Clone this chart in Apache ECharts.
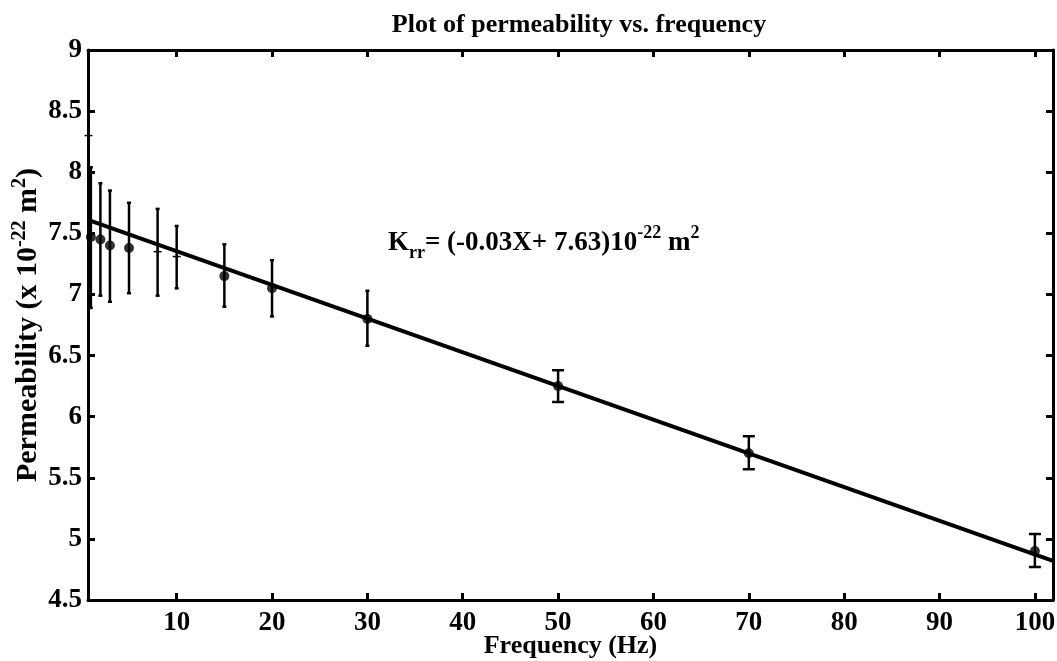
<!DOCTYPE html>
<html>
<head>
<meta charset="utf-8">
<script src="https://cdn.jsdelivr.net/npm/echarts@6/dist/echarts.min.js"></script>
<style>
  html, body { margin: 0; padding: 0; background: #fff; }
  #chart { width: 1057px; height: 661px; }
</style>
</head>
<body>
<div id="chart"></div>
<script>
  // frequency (Hz) and permeability (x 10^-22 m^2)
  var freqDots = [1, 2, 3, 5, 15, 20, 30, 50, 70, 100];
  var permDots = [7.47, 7.45, 7.4, 7.38, 7.15, 7.05, 6.8, 6.25, 5.7, 4.9];
  var errLow  = [6.89, 6.99, 6.94, 7.01, 6.9, 6.82, 6.58, 6.12, 5.57, 4.77];
  var errHigh = [8.04, 7.91, 7.85, 7.75, 7.41, 7.28, 7.03, 6.38, 5.84, 5.04];

  // points drawn with a "+" marker
  var freqPlus = [0.75, 8, 10];
  var permPlus = [8.3, 7.35, 7.31];
  var plusLow  = [null, 6.99, 7.05];
  var plusHigh = [null, 7.7, 7.56];

  // fitted line end points
  var fitX = [0.7, 101.9];
  var fitY = [7.61, 4.82];

  var xTicks = [10, 20, 30, 40, 50, 60, 70, 80, 90, 100];

  var font = '"Liberation Serif", "Times New Roman", serif';

  var errData = [];
  freqDots.forEach(function (f, i) { errData.push([f, errLow[i], errHigh[i]]); });
  freqPlus.forEach(function (f, i) {
    if (plusLow[i] != null) errData.push([f, plusLow[i], plusHigh[i]]);
  });

  var myChart = echarts.init(document.getElementById('chart'));
  window.addEventListener('resize', function () { myChart.resize(); });

  myChart.setOption({
    backgroundColor: '#fff',
    animation: false,
    title: {
      text: 'Plot of permeability vs. frequency',
      left: 574,
      top: 7,
      textAlign: 'center',
      textStyle: { fontFamily: font, fontWeight: 'bold', fontSize: 26, color: '#000' }
    },
    grid: { left: 88, right: 4, top: 50, bottom: 61, outerBoundsMode: 'none' },
    xAxis: [{
      type: 'value',
      min: fitX[0],
      max: fitX[1],
      name: 'Frequency (Hz)',
      nameLocation: 'middle',
      nameGap: 33,
      nameMoveOverlap: false,
      nameTextStyle: { fontFamily: font, fontWeight: 'bold', fontSize: 26, color: '#000' },
      axisLine: { show: true, lineStyle: { color: '#000', width: 3 } },
      axisTick: { show: true, inside: true, length: 7, lineStyle: { width: 3, color: '#000' }, customValues: xTicks },
      axisLabel: { fontFamily: font, fontWeight: 'bold', fontSize: 27, color: '#000', margin: 10, customValues: xTicks },
      splitLine: { show: false }
    }, {
      type: 'value',
      position: 'top',
      min: fitX[0],
      max: fitX[1],
      axisLine: { show: true, onZero: false, lineStyle: { color: '#000', width: 3 } },
      axisTick: { show: true, inside: true, length: 7, lineStyle: { width: 3, color: '#000' }, customValues: xTicks },
      axisLabel: { show: false },
      splitLine: { show: false }
    }],
    yAxis: [{
      type: 'value',
      min: 4.5,
      max: 9,
      interval: 0.5,
      name: '{b|Permeability (x 10}{sup|-22}{b| m}{sup|2}{b|)}',
      nameLocation: 'middle',
      nameRotate: 90,
      nameGap: 42,
      nameMoveOverlap: false,
      nameTextStyle: {
        color: '#000',
        rich: {
          b: { fontFamily: font, fontWeight: 'bold', fontSize: 30, lineHeight: 36, color: '#000' },
          sup: { fontFamily: font, fontWeight: 'bold', fontSize: 20, lineHeight: 36, verticalAlign: 'top', color: '#000' }
        }
      },
      axisLine: { show: true, lineStyle: { color: '#000', width: 3 } },
      axisTick: { show: true, inside: true, length: 7, lineStyle: { width: 3, color: '#000' } },
      axisLabel: { fontFamily: font, fontWeight: 'bold', fontSize: 27, color: '#000', margin: 6 },
      splitLine: { show: false }
    }, {
      type: 'value',
      position: 'right',
      min: 4.5,
      max: 9,
      interval: 0.5,
      axisLine: { show: true, onZero: false, lineStyle: { color: '#000', width: 3 } },
      axisTick: { show: true, inside: true, length: 7, lineStyle: { width: 3, color: '#000' } },
      axisLabel: { show: false },
      splitLine: { show: false }
    }],
    graphic: [{
      type: 'text',
      left: 388,
      top: 224,
      style: {
        text: '{b|K}{sub|rr}{b|= (-0.03X+ 7.63)10}{sup|-22}{b| m}{sup|2}',
        rich: {
          b: { fontFamily: font, fontWeight: 'bold', fontSize: 27, lineHeight: 38, fill: '#000' },
          sub: { fontFamily: font, fontWeight: 'bold', fontSize: 18, lineHeight: 38, verticalAlign: 'bottom', fill: '#000' },
          sup: { fontFamily: font, fontWeight: 'bold', fontSize: 18, lineHeight: 38, verticalAlign: 'top', fill: '#000' }
        }
      }
    }],
    series: [{
      name: 'fit',
      type: 'line',
      data: fitX.map(function (x, i) { return [x, fitY[i]]; }),
      symbol: 'none',
      lineStyle: { color: '#000', width: 4 },
      z: 3
    }, {
      name: 'error',
      type: 'custom',
      data: errData,
      renderItem: function (params, api) {
        var x = api.value(0);
        var lo = api.coord([x, api.value(1)]);
        var hi = api.coord([x, api.value(2)]);
        var cap = x >= 40 ? 6 : 2;
        var st = { stroke: '#000', lineWidth: 2.5 };
        return {
          type: 'group',
          children: [
            { type: 'line', shape: { x1: hi[0], y1: hi[1], x2: lo[0], y2: lo[1] }, style: st },
            { type: 'line', shape: { x1: hi[0] - cap, y1: hi[1], x2: hi[0] + cap, y2: hi[1] }, style: st },
            { type: 'line', shape: { x1: lo[0] - cap, y1: lo[1], x2: lo[0] + cap, y2: lo[1] }, style: st }
          ]
        };
      },
      z: 4
    }, {
      name: 'dots',
      type: 'scatter',
      data: freqDots.map(function (x, i) { return [x, permDots[i]]; }),
      symbol: 'circle',
      symbolSize: 10,
      itemStyle: { color: '#000' },
      z: 5
    }, {
      name: 'plus',
      type: 'custom',
      data: freqPlus.map(function (x, i) { return [x, permPlus[i]]; }),
      renderItem: function (params, api) {
        var p = api.coord([api.value(0), api.value(1)]);
        var st = { stroke: '#000', lineWidth: 1.5 };
        return {
          type: 'group',
          children: [
            { type: 'line', shape: { x1: p[0] - 4, y1: p[1], x2: p[0] + 4, y2: p[1] }, style: st },
            { type: 'line', shape: { x1: p[0], y1: p[1] - 4, x2: p[0], y2: p[1] + 4 }, style: st }
          ]
        };
      },
      z: 5
    }]
  });
</script>
</body>
</html>
